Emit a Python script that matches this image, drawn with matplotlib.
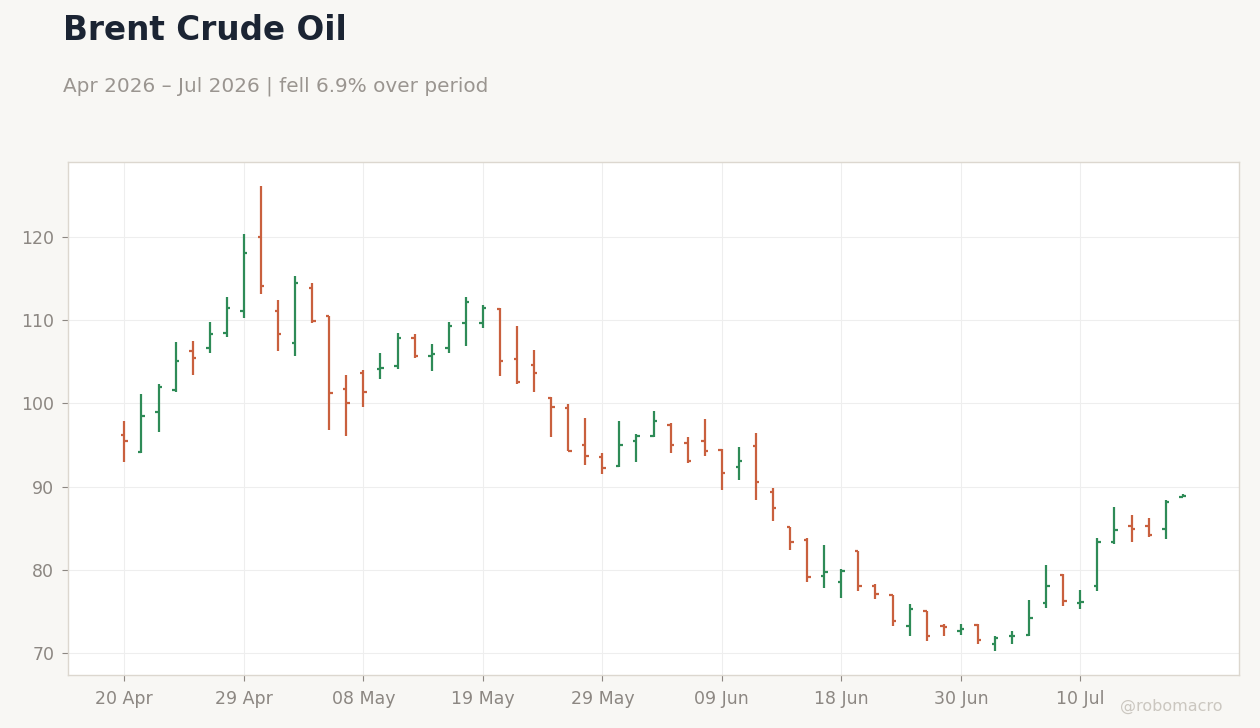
import numpy as np
import matplotlib
matplotlib.use("Agg")
import matplotlib.pyplot as plt

# daily OHLC (63 trading days)
opens = [96.2, 94.1, 99.0, 101.6, 106.3, 106.6, 108.4, 111.1, 120.0, 111.1,
         107.2, 113.9, 110.5, 101.7, 103.7, 104.1, 104.5, 107.8, 105.7, 106.7,
         109.7, 109.6, 111.3, 105.3, 104.6, 100.6, 99.5, 95.0, 93.5, 92.5,
         95.5, 96.1, 97.4, 95.2, 95.5, 94.4, 92.3, 94.9, 89.3, 85.1,
         83.6, 79.3, 78.5, 82.3, 78.1, 77.0, 73.2, 75.0, 73.2, 72.7,
         73.4, 71.1, 72.0, 72.2, 76.0, 79.4, 76.0, 78.1, 83.4, 85.3,
         85.3, 84.9, 88.8]
highs = [97.9, 101.1, 102.3, 107.4, 107.5, 109.8, 112.8, 120.4, 126.1, 112.4,
         115.3, 114.4, 110.5, 103.4, 104.0, 106.1, 108.5, 108.3, 107.1, 109.8,
         112.8, 111.8, 111.5, 109.3, 106.4, 100.8, 99.9, 98.2, 94.0, 97.9,
         96.3, 99.1, 97.6, 96.0, 98.1, 94.5, 94.8, 96.4, 89.8, 85.2,
         83.8, 83.0, 80.1, 82.3, 78.3, 77.0, 75.9, 75.1, 73.5, 73.5,
         73.5, 72.0, 72.6, 76.4, 80.6, 79.5, 77.6, 83.8, 87.5, 86.6,
         86.2, 88.4, 89.1]
lows = [92.9, 94.0, 96.6, 101.4, 103.4, 106.0, 108.0, 110.3, 113.1, 106.3,
        105.7, 109.7, 96.8, 96.1, 99.6, 102.9, 104.1, 105.4, 103.9, 106.1,
        106.9, 109.0, 103.3, 102.3, 101.4, 96.0, 94.3, 92.6, 91.5, 92.4,
        92.9, 96.0, 94.0, 92.8, 93.7, 89.6, 90.8, 88.4, 85.9, 82.4,
        78.5, 77.8, 76.6, 77.4, 76.5, 73.2, 72.1, 71.5, 72.0, 72.2,
        71.1, 70.2, 71.1, 72.1, 75.4, 75.7, 75.3, 77.4, 83.1, 83.4,
        83.9, 83.7, 88.8]
closes = [95.5, 98.5, 102.0, 105.1, 105.4, 108.3, 111.4, 118.1, 114.1, 108.3,
          114.5, 109.9, 101.3, 100.1, 101.4, 104.3, 107.9, 105.7, 105.9, 109.3,
          112.2, 111.4, 105.1, 102.6, 103.6, 99.6, 94.3, 93.7, 92.2, 95.0,
          96.1, 97.9, 95.0, 93.1, 94.3, 91.6, 93.1, 90.5, 87.4, 83.3,
          79.1, 79.7, 79.9, 78.0, 77.1, 73.8, 75.3, 72.1, 73.1, 72.9,
          71.6, 71.8, 72.1, 74.2, 78.1, 76.3, 76.1, 83.4, 84.8, 84.9,
          84.2, 88.2, 88.9]
tick_labels = ["20 Apr", "29 Apr", "08 May", "19 May", "29 May",
               "09 Jun", "18 Jun", "30 Jun", "10 Jul"]

UP = "#2e8b57"
DOWN = "#c9603e"
BG = "#f8f7f4"

fig = plt.figure(figsize=(12.6, 7.28), dpi=100, facecolor=BG)
ax = fig.add_axes([0.054, 0.0728, 0.9294, 0.7047])
ax.set_facecolor("white")

x = np.arange(len(opens))
o = np.array(opens)
c = np.array(closes)
colors = [UP if cl >= op else DOWN for op, cl in zip(o, c)]

tw = 0.2
ax.vlines(x, lows, highs, colors=colors, lw=1.6, zorder=3)
ax.hlines(o, x - tw, x, colors=colors, lw=1.6, zorder=3)
ax.hlines(c, x, x + tw, colors=colors, lw=1.6, zorder=3)

ax.set_xlim(-3.3, len(opens) - 1 + 3.3)
ax.set_ylim(67.36, 129.0)
ax.set_xticks(np.arange(0, len(opens), 7))
ax.set_xticklabels(tick_labels)
ax.set_yticks([70, 80, 90, 100, 110, 120])

ax.grid(True, color="#eeeeee", lw=0.8, zorder=0)
ax.set_axisbelow(True)
for s in ax.spines.values():
    s.set_color("#dcd7cf")
    s.set_linewidth(1.0)
ax.tick_params(colors="#8c8782", labelsize=12.5, length=4, width=0.8, pad=6)
ax.tick_params(axis="x", pad=7)

fig.text(0.05, 0.945, "Brent Crude Oil", fontsize=23.5, fontweight="bold",
         color="#1b2433", va="baseline")
fig.text(0.05, 0.874, "Apr 2026 \u2013 Jul 2026 | fell 6.9% over period",
         fontsize=14.4, color="#9a9590", va="baseline")
fig.text(0.97, 0.024, "@robomacro", fontsize=11.5, color="#cbc7c0",
         ha="right", va="baseline")

fig.savefig("out.png", dpi=100, facecolor=BG)
